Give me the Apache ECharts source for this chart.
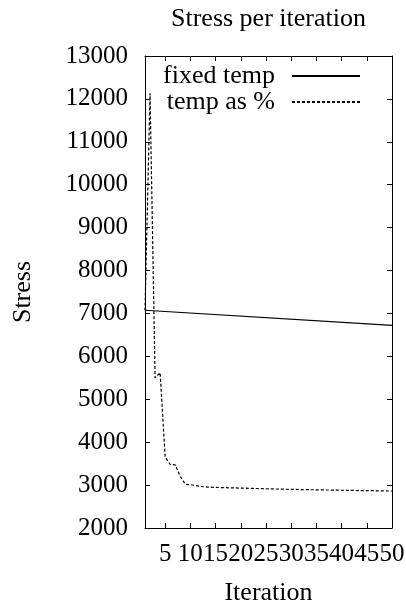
<!DOCTYPE html>
<html>
<head>
<meta charset="utf-8">
<script src="https://cdn.jsdelivr.net/npm/echarts@6/dist/echarts.min.js"></script>
<style>
  html, body { margin: 0; padding: 0; background: #fff; }
  #chart { width: 406px; height: 607px; }
</style>
</head>
<body>
<div id="chart"></div>
<script>
// Stress per iteration for the two annealing schedules
const iterations = [1, 2, 3, 4, 5, 6, 7, 8, 9, 10,
  11, 12, 13, 14, 15, 16, 17, 18, 19, 20,
  21, 22, 23, 24, 25, 26, 27, 28, 29, 30,
  31, 32, 33, 34, 35, 36, 37, 38, 39, 40,
  41, 42, 43, 44, 45, 46, 47, 48, 49, 50];

const tempAsPercent = [7070, 12130, 5500, 5620, 3660, 3480, 3470, 3200, 3020, 3010,
  2990, 2968, 2958, 2952, 2946, 2942, 2939, 2936, 2933, 2930,
  2927, 2924, 2921, 2918, 2915, 2912, 2909, 2906, 2903, 2900,
  2898, 2896, 2894, 2892, 2890, 2888, 2886, 2884, 2882, 2880,
  2878, 2876, 2874, 2872, 2870, 2869, 2867, 2865, 2863, 2862];

// fixed temperature run: a straight line between first and last iteration
const fixedIterations = [1, 50];
const fixedTemp = [7075, 6720];

const xTicks = [5, 10, 15, 20, 25, 30, 35, 40, 45, 50];

const FONT = 'Liberation Serif';
const FS = 26;      // title, legend and axis names
const FS_TICK = 25; // tick labels

const pairs = (xs, ys) => xs.map((x, i) => [x, ys[i]]);

const chart = echarts.init(document.getElementById('chart'), null, { renderer: 'canvas' });

const tickStyle = { show: true, inside: true, length: 5, lineStyle: { color: '#000', width: 1 } };

chart.setOption({
  animation: false,
  backgroundColor: '#fff',
  textStyle: { fontFamily: FONT, color: '#000' },
  title: {
    text: 'Stress per iteration',
    left: 171, top: 6, padding: 0,
    textStyle: { fontFamily: FONT, fontSize: FS, fontWeight: 'normal', color: '#000' }
  },
  legend: {
    orient: 'vertical',
    align: 'right',
    right: 40, top: 58,
    itemWidth: 68, itemHeight: 12, itemGap: 0,
    itemStyle: { opacity: 0 },
    textStyle: { fontFamily: FONT, fontSize: FS, color: '#000', lineHeight: 26, padding: [0, 12, 0, 0] },
    data: ['fixed temp', 'temp as %']
  },
  grid: { left: 145, right: 14, top: 56, bottom: 79, containLabel: false, outerBoundsMode: 'none' },
  xAxis: [{
    type: 'value', min: 1, max: 50,
    name: 'Iteration', nameLocation: 'middle', nameGap: 52,
    nameTextStyle: { fontFamily: FONT, fontSize: FS, color: '#000' },
    axisLine: { show: true, onZero: false, lineStyle: { color: '#000', width: 1 } },
    axisTick: Object.assign({ customValues: xTicks }, tickStyle),
    axisLabel: { customValues: xTicks, interval: 0, showMaxLabel: true, hideOverlap: false,
      margin: 14, fontFamily: FONT, fontSize: FS_TICK, color: '#000' },
    splitLine: { show: false }
  }, {
    type: 'value', min: 1, max: 50, position: 'top',
    axisLine: { show: true, onZero: false, lineStyle: { color: '#000', width: 1 } },
    axisTick: Object.assign({ customValues: xTicks }, tickStyle),
    axisLabel: { show: false },
    splitLine: { show: false }
  }],
  yAxis: [{
    type: 'value', min: 2000, max: 13000, interval: 1000,
    name: 'Stress', nameLocation: 'middle', nameGap: 109, nameRotate: 90,
    nameTextStyle: { fontFamily: FONT, fontSize: FS, color: '#000' },
    axisLine: { show: true, onZero: false, lineStyle: { color: '#000', width: 1 } },
    axisTick: tickStyle,
    axisLabel: { margin: 17, fontFamily: FONT, fontSize: FS_TICK, color: '#000', formatter: v => String(v) },
    splitLine: { show: false }
  }, {
    type: 'value', min: 2000, max: 13000, interval: 1000, position: 'right',
    axisLine: { show: true, onZero: false, lineStyle: { color: '#000', width: 1 } },
    axisTick: tickStyle,
    axisLabel: { show: false },
    splitLine: { show: false }
  }],
  series: [{
    name: 'fixed temp',
    type: 'line',
    xAxisIndex: 0, yAxisIndex: 0,
    data: pairs(fixedIterations, fixedTemp),
    showSymbol: false, symbol: 'none',
    lineStyle: { color: '#000', width: 1.2, type: 'solid' },
    itemStyle: { color: '#000' }
  }, {
    name: 'temp as %',
    type: 'line',
    xAxisIndex: 0, yAxisIndex: 0,
    data: pairs(iterations, tempAsPercent),
    showSymbol: false, symbol: 'none',
    lineStyle: { color: '#000', width: 1.2, type: [3, 2] },
    itemStyle: { color: '#000' }
  }]
});
</script>
</body>
</html>
